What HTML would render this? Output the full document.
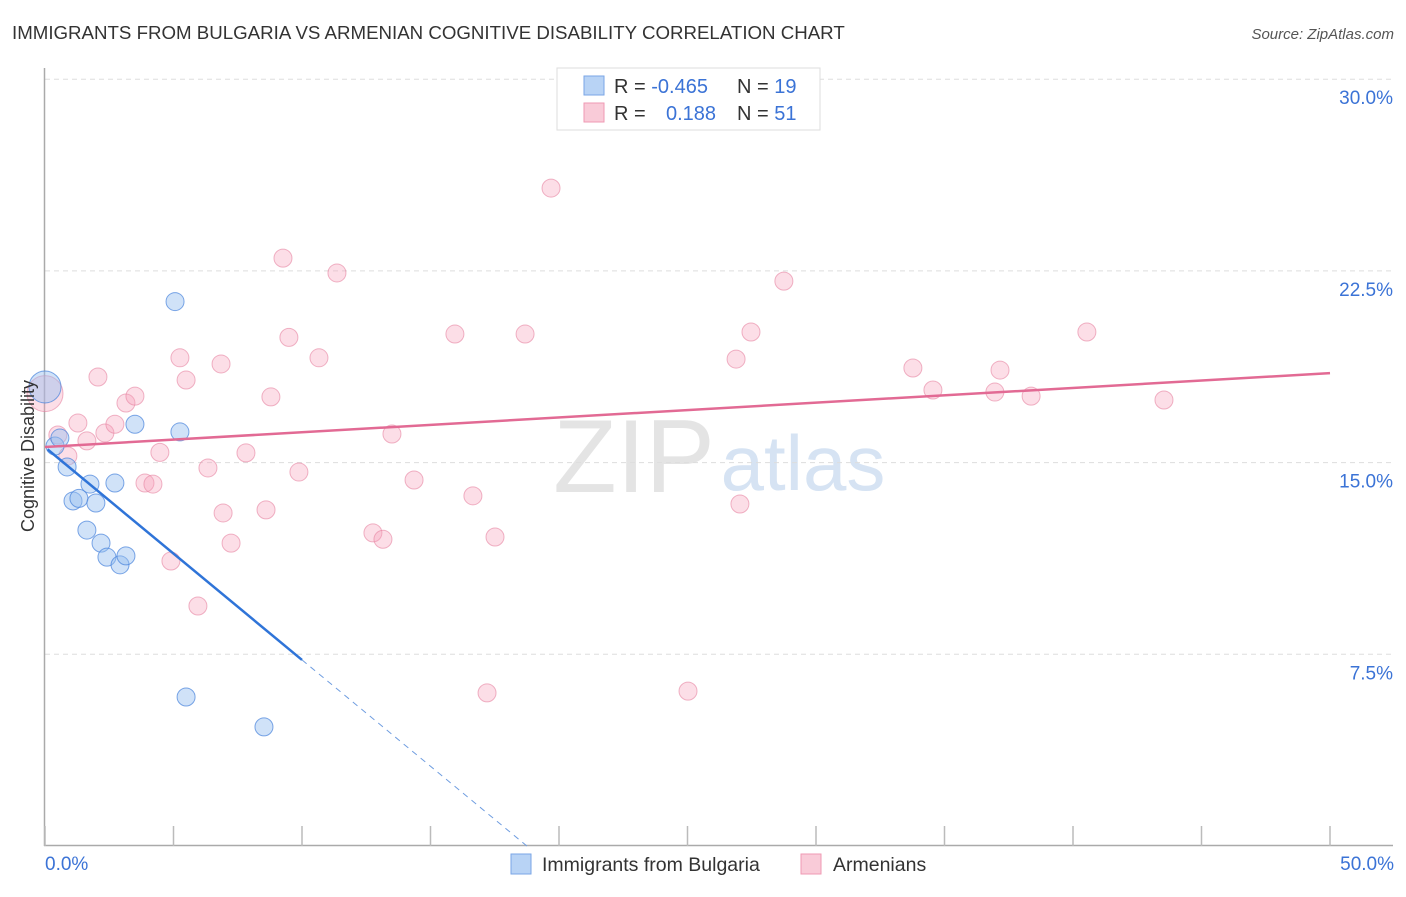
<!DOCTYPE html>
<html><head><meta charset="utf-8"><style>
body{margin:0;background:#fff;font-family:"Liberation Sans",sans-serif}
svg text{font-family:"Liberation Sans",sans-serif}
</style></head><body>
<svg id="chart" width="1406" height="892" xmlns="http://www.w3.org/2000/svg">
<text x="12" y="39" font-size="18.7" fill="#333">IMMIGRANTS FROM BULGARIA VS ARMENIAN COGNITIVE DISABILITY CORRELATION CHART</text>
<text x="1394" y="39" font-size="15" fill="#555" font-style="italic" text-anchor="end">Source: ZipAtlas.com</text>
<text x="634" y="492" font-size="104" fill="#e4e4e4" font-family="Liberation Serif" text-anchor="middle">ZIP</text>
<text x="803" y="490" font-size="78" fill="#d6e3f3" text-anchor="middle">atlas</text>
<g id="grid"></g><g id="axes"></g><g id="marks"></g>
<text transform="translate(34,456) rotate(-90)" font-size="18" fill="#333" text-anchor="middle">Cognitive Disability</text>
<text x="45" y="870" font-size="19" fill="#3b73d6">0.0%</text>
<text x="1394" y="870" font-size="19" fill="#3b73d6" text-anchor="end">50.0%</text>
<g>
<rect x="557" y="68" width="263" height="62" fill="#fff" stroke="#ddd"/>
<rect x="584" y="76" width="20" height="19" fill="#b8d3f5" stroke="#7aa6e6"/>
<rect x="584" y="103" width="20" height="19" fill="#f9cbd8" stroke="#ef9ab3"/>
<text x="614" y="93" font-size="20" fill="#333">R = <tspan fill="#3b73d6">-0.465</tspan><tspan x="737">N = </tspan><tspan fill="#3b73d6">19</tspan></text>
<text x="614" y="120" font-size="20" fill="#333">R = <tspan x="666" fill="#3b73d6">0.188</tspan><tspan x="737">N = </tspan><tspan fill="#3b73d6">51</tspan></text>
</g>
<g>
<rect x="511" y="854" width="20" height="20" fill="#b8d3f5" stroke="#7aa6e6"/>
<text x="542" y="871" font-size="19.5" fill="#333">Immigrants from Bulgaria</text>
<rect x="801" y="854" width="20" height="20" fill="#f9cbd8" stroke="#ef9ab3"/>
<text x="833" y="871" font-size="19.5" fill="#333">Armenians</text>
</g>
</svg>
<script>
const yTicks=[7.5,15,22.5,30];
const yTickLabels=["7.5%","15.0%","22.5%","30.0%"];
const xTicks=[0,5,10,15,20,25,30,35,40,45,50];
const blueX=[0,0.39,0.58,0.86,1.09,1.32,1.63,1.75,1.98,2.18,2.41,2.72,2.92,3.15,3.5,5.06,5.25,5.49,8.52];
const blueY=[17.96,15.65,15.96,14.83,13.5,13.6,12.36,14.16,13.42,11.85,11.3,14.2,11.0,11.35,16.5,21.3,16.2,5.83,4.66];
const pinkX=[0,0.5,0.89,1.28,1.63,2.06,2.33,2.72,3.15,3.5,3.89,4.2,4.47,4.9,5.25,5.49,5.95,6.34,6.85,6.93,7.24,7.82,8.6,8.79,9.26,9.49,9.88,10.66,11.36,12.76,13.15,13.5,14.36,15.95,16.65,17.2,17.51,18.68,19.69,25.02,26.89,27.04,27.47,28.75,33.77,34.55,36.96,37.16,38.37,40.54,43.54];
const pinkY=[17.7,16.08,15.26,16.55,15.85,18.35,16.16,16.5,17.33,17.6,14.2,14.16,15.4,11.15,19.1,18.23,9.39,14.79,18.86,13.03,11.85,15.38,13.15,17.57,23.0,19.9,14.63,19.1,22.42,12.25,12.0,16.12,14.32,20.03,13.7,5.99,12.09,20.03,25.74,6.06,19.05,13.38,20.11,22.1,18.7,17.84,17.76,18.62,17.6,20.11,17.45];
const blueTrend=[15.6,-0.832];
const pinkTrend=[15.61,0.0578];
const xs=v=>45+v*25.7, ys=v=>846-v*25.56;
const NS="http://www.w3.org/2000/svg";
function mk(tag,attrs,parent){const e=document.createElementNS(NS,tag);for(const k in attrs)e.setAttribute(k,attrs[k]);document.getElementById(parent).appendChild(e);return e;}
yTicks.forEach((t,i)=>{
 const g=mk('line',{x1:45,x2:1393,y1:ys(t),y2:ys(t),stroke:'#ddd','stroke-dasharray':'5,4'},'grid');
 
 
 const l=mk('text',{x:1393,y:ys(t)+25,'font-size':19,fill:'#3b73d6','text-anchor':'end'},'grid');
 l.textContent=yTickLabels[i];
 
 
});
const ya=mk('line',{x1:44.5,x2:44.5,y1:68,y2:846,stroke:'#aaa','stroke-width':1.5},'axes');


const xa=mk('line',{x1:44,x2:1393,y1:845.5,y2:845.5,stroke:'#aaa','stroke-width':1.5},'axes');


xTicks.forEach(t=>{
 const k=mk('line',{x1:xs(t),x2:xs(t),y1:826,y2:846,stroke:'#bbb','stroke-width':1.5},'axes');
 
 
});
pinkX.forEach((x,i)=>{
 const c=mk('circle',{cx:xs(x),cy:ys(pinkY[i]),r:i==0?18:9,fill:'rgba(245,160,185,0.35)',stroke:'rgba(230,130,160,0.6)','stroke-width':1},'marks');
 
 
});
blueX.forEach((x,i)=>{
 const c=mk('circle',{cx:xs(x),cy:ys(blueY[i]),r:i==0?16:9,fill:'rgba(150,190,240,0.45)',stroke:'rgba(70,130,220,0.7)','stroke-width':1},'marks');
 
 
});
const pl=mk('line',{x1:xs(0),y1:ys(pinkTrend[0]),x2:xs(50),y2:ys(pinkTrend[0]+pinkTrend[1]*50),stroke:'#e26a94','stroke-width':2.5},'marks');


const bEnd=10, bZero=-blueTrend[0]/blueTrend[1];
const bl=mk('line',{x1:xs(0.1),y1:ys(blueTrend[0]+blueTrend[1]*0.1),x2:xs(bEnd),y2:ys(blueTrend[0]+blueTrend[1]*bEnd),stroke:'#2f74d8','stroke-width':2.5},'marks');


const bd=mk('line',{x1:xs(bEnd),y1:ys(blueTrend[0]+blueTrend[1]*bEnd),x2:xs(bZero),y2:ys(0),stroke:'#6f9de0','stroke-width':1,'stroke-dasharray':'6,5'},'marks');


</script>
</body></html>
